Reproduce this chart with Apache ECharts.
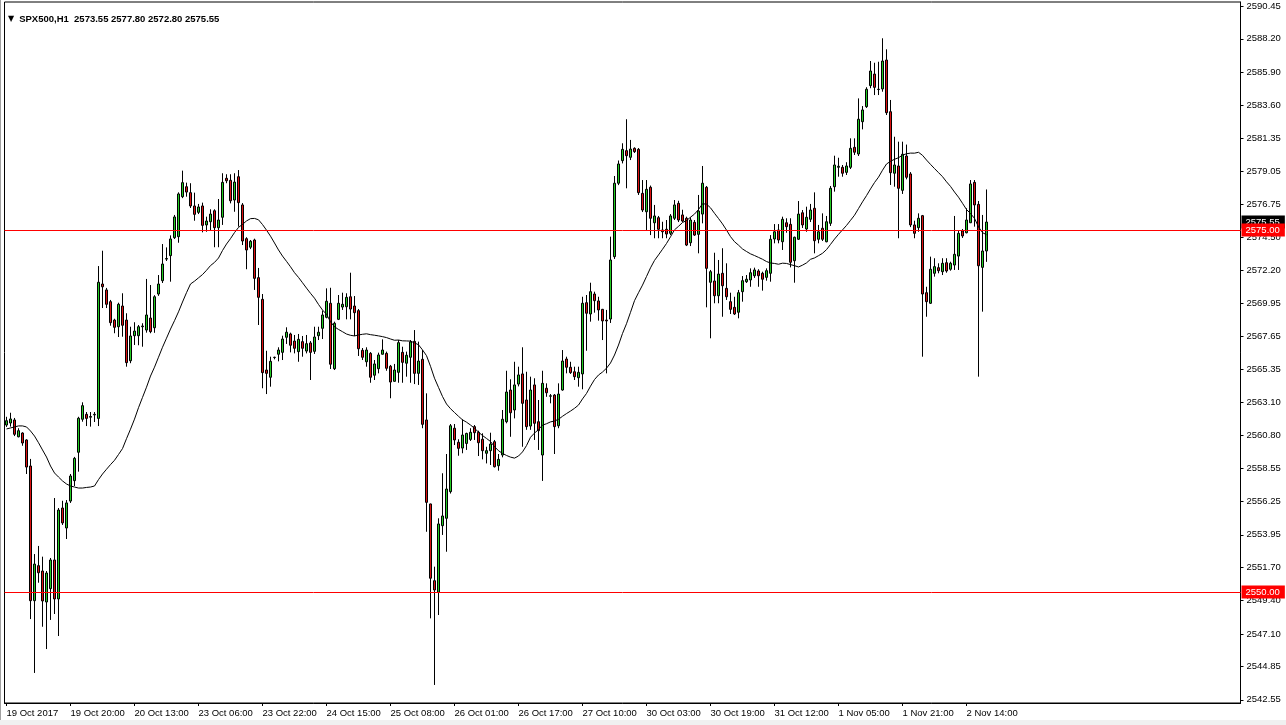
<!DOCTYPE html>
<html><head><meta charset="utf-8">
<script src="https://cdn.jsdelivr.net/npm/echarts@6/dist/echarts.min.js"></script>
<style>html,body{margin:0;padding:0;background:#fff;}#c{width:1286px;height:725px;}</style>
</head><body><div id="c"></div>
<script>
// ---- data (SPX500, H1) ----
const open = [2561.53,2561.67,2561.88,2560.72,2560.98,2560.50,2558.70,2549.40,2551.82,2551.45,2549.31,2550.23,2552.21,2549.52,2555.80,2554.42,2556.28,2557.69,2559.65,2561.93,
2562.27,2562.07,2562.23,2561.99,2571.27,2570.86,2570.05,2568.78,2568.32,2569.75,2568.78,2565.97,2567.70,2567.70,2568.32,2568.09,2568.92,2568.25,2570.58,2571.50,
2572.99,2573.23,2574.47,2574.54,2577.30,2577.99,2577.58,2576.66,2576.22,2576.66,2575.35,2575.57,2576.33,2575.16,2575.88,2578.57,2578.43,2577.07,2578.68,2576.73,
2574.40,2573.81,2574.31,2571.71,2570.21,2565.33,2564.83,2566.19,2566.42,2566.55,2567.59,2567.82,2567.33,2566.60,2567.29,2566.64,2567.20,2566.62,2567.70,2568.21,
2568.97,2569.94,2565.42,2568.83,2569.68,2569.70,2570.39,2569.75,2569.43,2566.69,2565.90,2566.48,2564.97,2565.42,2566.42,2566.48,2565.59,2564.55,2565.17,2566.55,
2565.80,2566.21,2567.31,2565.10,2566.07,2561.88,2556.08,2550.78,2549.98,2554.58,2555.09,2556.93,2561.31,2560.34,2559.94,2560.26,2560.54,2561.42,2561.03,2560.55,
2559.58,2559.76,2560.38,2558.72,2559.46,2561.76,2563.95,2562.57,2564.36,2565.06,2563.26,2561.46,2564.30,2561.76,2559.46,2564.07,2563.52,2563.60,2561.48,2563.95,
2566.09,2565.52,2565.21,2564.80,2565.06,2569.98,2569.20,2570.58,2570.10,2569.52,2568.78,2568.85,2573.16,2578.23,2579.79,2580.48,2580.02,2580.64,2580.57,2577.53,
2576.26,2577.95,2575.50,2575.85,2575.00,2575.05,2574.77,2575.81,2576.84,2576.04,2575.81,2574.12,2575.53,2574.70,2576.10,2577.95,2571.39,2571.48,2570.46,2572.01,
2570.97,2570.05,2569.66,2569.32,2570.74,2571.43,2571.55,2571.84,2572.17,2572.01,2571.73,2572.01,2574.38,2575.00,2574.19,2575.50,2575.39,2572.88,2574.36,2576.19,
2575.07,2575.74,2576.50,2574.36,2575.12,2574.19,2575.46,2577.99,2579.33,2579.33,2578.98,2579.33,2580.71,2580.25,2582.48,2583.52,2584.97,2585.77,2584.70,2584.74,
2586.74,2583.17,2578.92,2579.42,2577.74,2580.11,2578.87,2575.35,2575.16,2575.99,2570.67,2569.94,2572.01,2572.40,2572.12,2572.74,2572.29,2572.58,2573.20,2574.93,
2574.81,2575.50,2578.29,2576.77,2572.42,2573.55];
const high = [2562.10,2562.38,2562.02,2561.31,2561.03,2560.55,2559.19,2552.62,2553.18,2552.44,2551.45,2552.35,2556.49,2555.80,2556.30,2556.35,2558.15,2559.33,2562.10,2563.10,
2562.43,2562.43,2562.43,2572.51,2573.57,2571.00,2570.17,2568.87,2569.98,2570.63,2569.25,2568.32,2568.63,2568.44,2568.56,2571.62,2571.20,2570.50,2571.89,2574.03,
2573.80,2574.63,2576.04,2577.60,2579.10,2578.27,2578.23,2577.58,2576.80,2576.89,2575.92,2576.43,2576.43,2577.14,2578.92,2578.85,2578.85,2578.92,2579.14,2576.86,
2574.50,2574.31,2574.40,2572.38,2570.58,2566.66,2566.25,2566.25,2566.90,2567.70,2568.28,2567.91,2567.75,2567.82,2567.68,2567.75,2567.33,2568.32,2568.32,2569.43,
2570.97,2571.01,2568.67,2570.51,2570.67,2570.63,2572.05,2570.44,2569.54,2566.85,2566.90,2566.57,2566.02,2566.53,2567.45,2566.60,2565.68,2565.75,2567.40,2566.94,
2566.60,2567.40,2568.09,2567.29,2566.71,2563.72,2556.10,2551.75,2555.09,2558.20,2559.53,2561.60,2561.60,2560.55,2561.93,2561.00,2561.31,2561.53,2561.14,2560.96,
2560.03,2561.00,2560.50,2559.53,2562.57,2565.28,2564.69,2565.90,2565.56,2566.90,2565.21,2564.87,2564.76,2563.26,2565.28,2564.41,2563.67,2563.67,2564.41,2566.71,
2566.25,2565.90,2565.56,2565.56,2570.39,2570.51,2571.36,2570.74,2570.39,2569.55,2569.48,2574.54,2578.73,2579.80,2580.99,2582.65,2581.22,2580.71,2580.66,2578.45,
2578.45,2578.07,2576.73,2575.97,2575.57,2575.69,2576.10,2577.07,2577.02,2576.40,2575.92,2575.88,2575.69,2577.42,2579.42,2578.04,2572.24,2573.43,2572.93,2573.74,
2572.70,2570.67,2570.39,2570.86,2571.82,2571.89,2572.35,2572.40,2572.29,2572.12,2572.35,2574.65,2575.41,2575.41,2575.92,2575.81,2575.81,2574.54,2577.00,2576.38,
2576.61,2576.80,2577.60,2575.35,2576.15,2575.97,2578.04,2580.13,2579.99,2579.49,2579.68,2581.33,2581.33,2584.09,2583.56,2584.86,2586.67,2586.55,2586.62,2588.24,
2587.48,2583.98,2581.44,2581.10,2581.10,2580.90,2579.00,2575.64,2576.15,2576.04,2571.08,2573.16,2573.05,2572.70,2573.05,2573.05,2572.81,2575.97,2575.00,2575.07,
2576.50,2578.45,2578.45,2577.00,2576.04,2577.80];
const low = [2561.40,2561.42,2560.77,2560.68,2560.10,2558.15,2548.13,2544.41,2550.64,2547.60,2546.06,2548.07,2548.48,2546.96,2554.63,2553.66,2556.15,2557.32,2558.31,2561.76,
2561.46,2561.42,2561.74,2561.46,2569.61,2569.61,2568.39,2567.87,2567.61,2567.63,2565.56,2565.80,2567.06,2567.04,2566.94,2567.91,2567.87,2567.90,2570.45,2571.34,
2572.86,2571.43,2574.38,2574.12,2577.20,2577.30,2576.52,2575.64,2576.10,2574.84,2574.88,2575.00,2573.81,2573.81,2575.35,2578.23,2576.84,2576.26,2575.23,2573.96,
2572.29,2573.68,2570.86,2568.44,2564.07,2563.67,2564.18,2566.07,2565.93,2566.02,2567.13,2566.55,2566.48,2565.90,2566.25,2566.48,2564.64,2566.44,2567.40,2567.47,
2568.90,2565.40,2565.33,2568.78,2569.48,2568.83,2568.83,2567.68,2566.30,2566.02,2565.56,2564.45,2564.64,2565.10,2566.40,2565.28,2563.38,2564.52,2564.45,2564.45,
2564.87,2564.45,2564.36,2564.30,2561.31,2554.16,2548.18,2543.58,2548.41,2553.94,2552.78,2556.80,2560.15,2559.41,2559.58,2559.81,2560.43,2560.50,2559.39,2559.16,
2558.88,2558.77,2558.60,2558.38,2559.30,2561.65,2560.72,2561.99,2564.20,2560.03,2561.20,2561.20,2560.50,2559.81,2557.67,2563.48,2563.03,2559.53,2561.31,2563.90,
2565.10,2565.06,2564.64,2564.18,2564.00,2566.66,2568.67,2569.29,2568.74,2567.40,2565.10,2568.58,2573.00,2578.10,2579.60,2577.88,2579.83,2580.32,2577.42,2576.24,
2575.00,2574.65,2574.43,2574.43,2574.43,2574.43,2574.65,2575.69,2575.55,2575.55,2573.89,2573.89,2574.59,2573.39,2575.46,2569.66,2567.52,2569.94,2569.94,2569.01,
2570.17,2569.20,2569.13,2568.90,2570.05,2571.34,2571.08,2571.69,2571.08,2570.81,2571.50,2571.43,2574.08,2574.08,2573.62,2574.81,2572.42,2571.36,2574.31,2575.14,
2574.88,2575.55,2573.39,2574.08,2574.24,2574.15,2575.28,2577.65,2578.68,2578.68,2578.80,2579.21,2580.18,2580.11,2581.95,2583.43,2584.79,2584.32,2584.32,2584.55,
2582.94,2578.11,2577.99,2574.43,2577.49,2578.50,2575.20,2574.43,2574.88,2566.25,2569.01,2569.89,2571.78,2572.01,2571.89,2572.05,2572.19,2572.24,2572.24,2574.45,
2574.77,2575.48,2575.23,2564.87,2569.36,2572.80];
const close = [2561.83,2561.95,2560.89,2561.14,2560.29,2558.63,2549.40,2551.93,2551.33,2549.38,2551.31,2552.21,2549.52,2555.66,2554.77,2556.15,2558.01,2559.23,2562.00,2562.87,
2561.99,2562.12,2562.27,2571.39,2571.08,2569.87,2568.60,2568.28,2569.87,2568.42,2565.84,2567.68,2568.02,2568.32,2568.37,2569.13,2567.98,2570.39,2571.27,2572.65,
2573.03,2574.38,2575.90,2577.49,2578.27,2577.62,2576.66,2576.08,2576.59,2575.32,2575.62,2576.10,2575.16,2575.69,2578.29,2578.40,2577.02,2578.31,2576.89,2574.24,
2573.62,2574.22,2571.66,2570.35,2565.15,2565.10,2565.93,2566.21,2566.71,2567.47,2567.94,2567.04,2566.83,2567.45,2566.83,2567.15,2566.55,2567.61,2567.94,2569.13,
2570.08,2565.73,2568.56,2569.94,2569.87,2570.35,2569.54,2569.29,2566.80,2566.21,2566.71,2564.83,2565.75,2566.37,2566.71,2565.45,2564.50,2565.33,2567.22,2565.86,
2566.35,2567.27,2565.10,2565.95,2561.58,2556.19,2550.95,2550.14,2554.70,2555.25,2557.11,2561.48,2560.50,2559.92,2560.84,2560.95,2561.03,2561.00,2560.31,2559.76,
2559.76,2560.22,2558.65,2559.16,2561.93,2563.81,2562.38,2564.30,2564.99,2563.03,2561.42,2563.95,2561.65,2561.14,2564.41,2563.76,2563.55,2561.42,2563.67,2565.95,
2565.52,2565.15,2564.87,2565.17,2569.94,2569.25,2570.74,2570.12,2569.48,2568.72,2568.72,2572.93,2578.23,2579.56,2580.57,2580.13,2580.59,2580.41,2577.58,2576.38,
2577.81,2575.81,2575.97,2575.05,2574.88,2574.72,2575.97,2576.73,2575.69,2575.62,2573.96,2575.69,2574.65,2576.31,2578.23,2572.35,2572.12,2570.46,2571.96,2571.15,
2570.39,2569.52,2569.20,2570.67,2571.50,2571.60,2572.05,2572.24,2571.84,2571.60,2572.19,2574.36,2574.88,2574.31,2575.74,2575.23,2572.77,2574.50,2576.10,2575.35,
2575.88,2576.38,2574.26,2574.88,2574.36,2575.57,2577.88,2579.49,2579.40,2578.92,2579.42,2580.64,2580.37,2582.65,2583.29,2584.72,2585.98,2584.85,2584.72,2586.67,
2583.10,2578.96,2579.49,2577.88,2580.23,2578.64,2575.35,2574.77,2575.81,2570.58,2570.05,2572.29,2572.47,2572.19,2572.70,2572.17,2572.70,2573.32,2574.77,2574.59,
2575.69,2578.18,2576.73,2572.53,2573.55,2575.55];
// moving average values for the bars before a full 24-bar window exists
const maHead = [2561.26,2561.33,2561.40,2561.47,2561.47,2561.40,2561.12,2560.77,2560.31,2559.81,2559.32,2558.70,2558.22,2557.94,2557.67,2557.46,2557.32,2557.25,2557.18,2557.18,2557.22,2557.25,2557.32];
const maPeriod = 24;
const yTickValues = [2590.45,2588.20,2585.90,2583.60,2581.35,2579.05,2576.75,2574.50,2572.20,2569.95,2567.65,2565.35,2563.10,2560.80,2558.55,2556.25,2553.95,2551.70,2549.40,2547.10,2544.85,2542.55];
const xTickLabels = ['19 Oct 2017','19 Oct 20:00','20 Oct 13:00','23 Oct 06:00','23 Oct 22:00','24 Oct 15:00','25 Oct 08:00','26 Oct 01:00','26 Oct 17:00','27 Oct 10:00','30 Oct 03:00','30 Oct 19:00','31 Oct 12:00','1 Nov 05:00','1 Nov 21:00','2 Nov 14:00'];
const xTickStep = 16;
const levels = [2575.00, 2550.00];
const yMin = 2542.334, yMax = 2590.746;
const totalSlots = 309; // chart shifted: empty slots to the right

// ---- build ----
function buildCategories(n){
  const out=[]; let t=Date.UTC(2017,9,19,4);
  while(out.length<n){
    const d=new Date(t), h=d.getUTCHours(), wd=d.getUTCDay();
    if(h!==23 && wd!==0 && wd!==6) out.push(d.toISOString().slice(0,16).replace('T',' '));
    t+=3600000;
  }
  return out;
}
const categories = buildCategories(totalSlots);
const candles = open.map((o,i)=>[o, close[i], low[i], high[i]]);
const ma = close.map((c,i)=>{
  if(i<maHead.length) return maHead[i];
  let s=0; for(let k=i-maPeriod+1;k<=i;k++) s+=close[k];
  return +(s/maPeriod).toFixed(3);
});
const n = open.length, last = n-1;
const F = 'Liberation Sans, Arial, sans-serif';
const showTick = (idx)=> idx % xTickStep === 0 && idx <= last;

const chart = echarts.init(document.getElementById('c'), null, {renderer:'canvas'});
chart.setOption({
  animation:false,
  backgroundColor:'#ffffff',
  title:{
    text:'{t|▼} {s|SPX500,H1  ' + [open[last],high[last],low[last],close[last]].map(v=>v.toFixed(2)).join(' ') + '}',
    left:3, top:5,
    textStyle:{rich:{t:{fontSize:8,fontFamily:'DejaVu Sans',color:'#000'},s:{fontSize:9.5,fontFamily:F,color:'#000'}}}
  },
  graphic:[
    {type:'rect', left:0, top:0, shape:{width:1,height:720}, style:{fill:'#a0a0a0'}, silent:true},
    {type:'rect', left:0, top:720, shape:{width:1286,height:5}, style:{fill:'#f0f0f0'}, silent:true}
  ],
  grid:{left:4.5, right:45.5, top:2, bottom:22, show:true, borderColor:'#000', borderWidth:1, backgroundColor:'#fff'},
  xAxis:{
    type:'category', data:categories, boundaryGap:true,
    axisLine:{show:true, lineStyle:{color:'#000', width:1}},
    axisTick:{show:true, length:3, alignWithLabel:true, interval:(i)=>showTick(i), lineStyle:{color:'#000'}},
    axisLabel:{interval:(i)=>showTick(i), formatter:(v,i)=>xTickLabels[i/xTickStep], align:'left', margin:5,
      fontSize:9.5, fontFamily:F, color:'#000'},
    splitLine:{show:false}
  },
  yAxis:{
    type:'value', position:'right', min:yMin, max:yMax, scale:true,
    axisLine:{show:true, lineStyle:{color:'#000', width:1}},
    axisTick:{show:true, length:3, customValues:yTickValues, lineStyle:{color:'#000'}},
    axisLabel:{customValues:yTickValues, formatter:(v)=>v.toFixed(2), margin:6, fontSize:9.5, fontFamily:F, color:'#000'},
    splitLine:{show:false}
  },
  series:[
    {
      type:'candlestick', data:candles, barWidth:2, z:2,
      itemStyle:{color:'#22cc22', color0:'#dd1111', borderColor:'#000', borderColor0:'#000', borderColorDoji:'#000', borderWidth:1},
      markLine:{
        silent:true, symbol:'none', animation:false,
        lineStyle:{color:'rgba(0,0,0,0)', width:1},
        label:{show:true, position:'end', distance:1, formatter:(p)=>p.value.toFixed(2), color:'#fff', backgroundColor:'#000',
          padding:[1,5,1,4], fontSize:9.5, fontFamily:F, lineHeight:11},
        data:[{yAxis:close[last]}]
      }
    },
    {
      type:'line', data:ma, showSymbol:false, symbol:'none', z:3,
      lineStyle:{color:'#000', width:1},
      markLine:{
        silent:true, symbol:'none', animation:false,
        lineStyle:{color:'#ff0000', width:1, type:'solid'},
        label:{show:true, position:'end', distance:1, formatter:(p)=>p.value.toFixed(2), color:'#fff', backgroundColor:'#ff0000',
          padding:[1,5,1,4], fontSize:9.5, fontFamily:F, lineHeight:11},
        data:levels.map(v=>({yAxis:v}))
      }
    }
  ]
});
</script></body></html>
